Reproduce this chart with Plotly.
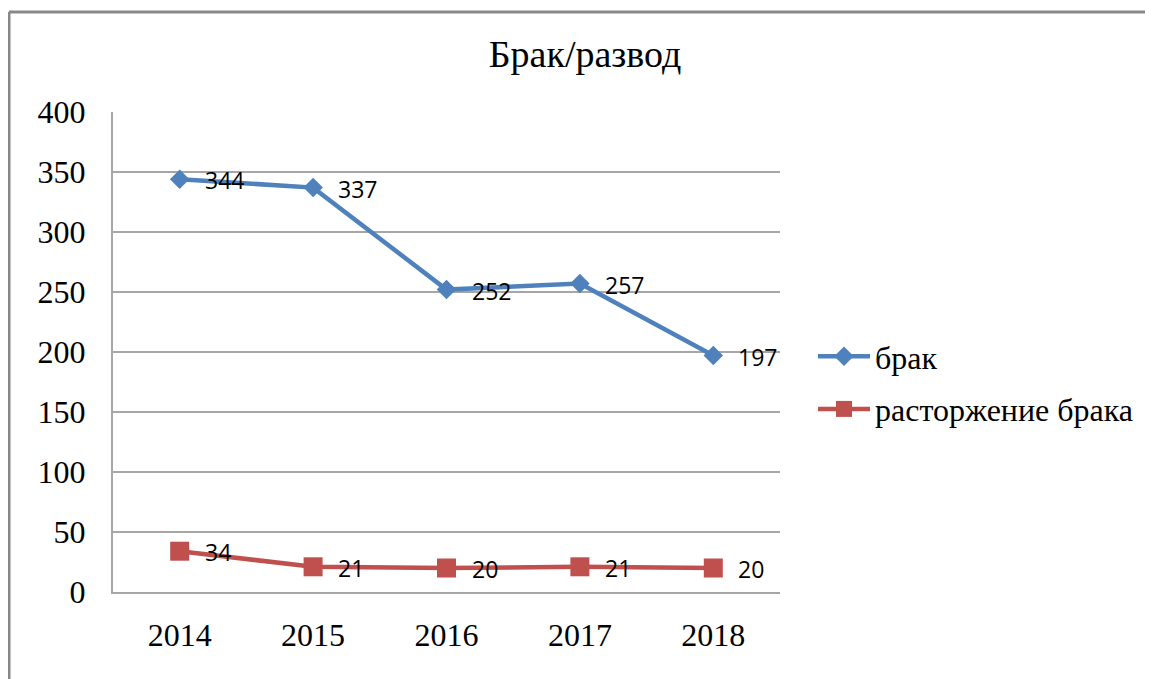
import plotly.graph_objects as go

years = ["2014", "2015", "2016", "2017", "2018"]
marriage = [344, 337, 252, 257, 197]
divorce = [34, 21, 20, 21, 20]
y_ticks = [0, 50, 100, 150, 200, 250, 300, 350, 400]

SERIF = "Liberation Serif, Times New Roman, serif"
SANS = "Open Sans, Liberation Sans, sans-serif"

# page body adds an 8px offset; positions below are compensated for it
OFF = 8
W, H = 1153 - OFF, 679 - OFF
L, R, T, B = 113 - OFF, 780 - OFF, 112 - OFF, 592 - OFF
pw, ph = R - L, B - T

def px_x(p):
    return (p - L) / pw

def px_y(p):
    return (B - p) / ph

fig = go.Figure()
fig.add_trace(go.Scatter(
    x=years, y=marriage, name="брак", mode="lines+markers",
    line=dict(color="#4F81BD", width=4.5),
    marker=dict(symbol="diamond", size=15, color="#4F81BD"),
    legendgroup="a",
))
fig.add_trace(go.Scatter(
    x=years, y=divorce, name="расторжение брака", mode="lines+markers",
    line=dict(color="#C0504D", width=4.5),
    marker=dict(symbol="square", size=19, color="#C0504D"),
    legendgroup="b",
))

annotations = []
for series in (marriage, divorce):
    for i, v in enumerate(series):
        annotations.append(dict(
            x=i, y=v, xref="x", yref="y", text=str(v), showarrow=False,
            xanchor="left", yanchor="middle", xshift=23, yshift=-1,
            font=dict(family=SANS, size=23, color="#000000"),
        ))

fig.update_layout(
    width=W, height=H,
    margin=dict(l=L, r=W - R, t=T, b=H - B),
    paper_bgcolor="white", plot_bgcolor="white",
    title=dict(text="Брак/развод", x=(585 - OFF) / W, xanchor="center",
               xref="container", y=1 - (58 - OFF - 4) / H, yanchor="middle", yref="container",
               font=dict(family=SERIF, size=38, color="#000000")),
    showlegend=True,
    legend=dict(x=(818 - OFF - 5) / W, xref="container", xanchor="left",
                y=1 - (383 - OFF) / H, yref="container", yanchor="middle",
                font=dict(family=SERIF, size=32, color="#000000"),
                traceorder="grouped", tracegroupgap=8, itemwidth=52,
                bgcolor="rgba(0,0,0,0)"),
    xaxis=dict(type="category", range=[-0.5, 4.5],
               showgrid=False, showline=True, linecolor="#A6A6A6", linewidth=2,
               ticks="", tickfont=dict(family=SERIF, size=32, color="#000000"),
               ticklabelstandoff=14, zeroline=False, fixedrange=True),
    yaxis=dict(range=[0, 400], tickvals=y_ticks,
               showgrid=True, gridcolor="#A6A6A6", gridwidth=1.5,
               showline=True, linecolor="#A6A6A6", linewidth=2,
               ticks="", tickfont=dict(family=SERIF, size=32, color="#000000"),
               ticklabelstandoff=19, zeroline=False, fixedrange=True),
    annotations=annotations,
    shapes=[
        dict(type="line", xref="paper", yref="paper",
             x0=px_x(9 - OFF), x1=px_x(W + 20), y0=px_y(12 - OFF), y1=px_y(12 - OFF),
             line=dict(color="#888888", width=3)),
        dict(type="line", xref="paper", yref="paper",
             x0=px_x(9 - OFF), x1=px_x(9 - OFF), y0=px_y(12 - OFF), y1=px_y(H + 20),
             line=dict(color="#888888", width=3)),
    ],
)

fig.write_html("out.html")
